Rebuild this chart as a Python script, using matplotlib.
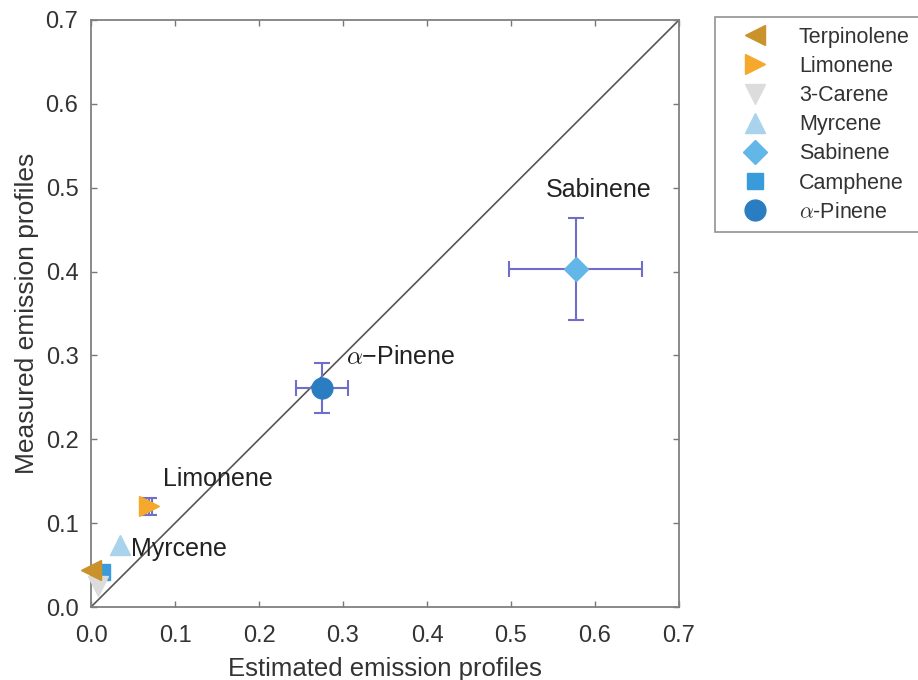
import matplotlib
matplotlib.use("Agg")
import matplotlib.pyplot as plt
from matplotlib.lines import Line2D

plt.rcParams['font.family'] = ['Liberation Sans', 'DejaVu Sans']
plt.rcParams['mathtext.fontset'] = 'cm'

names = ['Terpinolene', 'Limonene', '3-Carene', 'Myrcene', 'Sabinene', 'Camphene', r'$\alpha$-Pinene']
estimated = [0.0, 0.069, 0.008, 0.034, 0.577, 0.013, 0.275]
measured = [0.044, 0.120, 0.025, 0.074, 0.403, 0.042, 0.261]
est_err = [0.0, 0.004, 0.0, 0.0, 0.079, 0.0, 0.031]
meas_err = [0.0, 0.010, 0.0, 0.0, 0.061, 0.0, 0.030]
markers = ['<', '>', 'v', '^', 'D', 's', 'o']
colors = ['#C9922B', '#F5A82B', '#DCDCDC', '#A9D3EC', '#62B6E8', '#3A9BDA', '#2A7DC0']
sizes = [15, 15, 15, 14, 12, 11, 15]

labels = ['Sabinene', r'$\alpha$−Pinene', 'Limonene', 'Myrcene']
label_x = [0.542, 0.304, 0.086, 0.048]
label_y = [0.497, 0.298, 0.153, 0.069]

fig = plt.figure(figsize=(9.18, 6.8), dpi=100)
ax = fig.add_axes([91/918, 1-607/680, 588/918, 587/680])

ax.plot([0, 0.7], [0, 0.7], color='#555555', lw=1.2, zorder=1)

handles = []
for i in reversed(range(len(names))):
    if est_err[i] > 0 or meas_err[i] > 0:
        ax.errorbar(estimated[i], measured[i], xerr=est_err[i], yerr=meas_err[i],
                    fmt='none', ecolor='#6F6FC8', elinewidth=1.5, capsize=6, capthick=1.5,
                    zorder=2 + (len(names) - i))
    ax.plot(estimated[i], measured[i], marker=markers[i], color=colors[i], markersize=sizes[i],
            linestyle='none', zorder=3 + (len(names) - i), clip_on=False)
for i in range(len(names)):
    handles.append(Line2D([], [], marker=markers[i], color=colors[i], markersize=sizes[i], linestyle='none'))

for t, x, y in zip(labels, label_x, label_y):
    ax.text(x, y, t, fontsize=18, color='#222222', ha='left', va='center', zorder=20)

ax.set_xlim(0, 0.7)
ax.set_ylim(0, 0.7)
ticks = [0.0, 0.1, 0.2, 0.3, 0.4, 0.5, 0.6, 0.7]
ax.set_xticks(ticks)
ax.set_yticks(ticks)
ax.set_xticklabels([f'{t:.1f}' for t in ticks])
ax.set_yticklabels([f'{t:.1f}' for t in ticks])
ax.tick_params(direction='in', top=True, right=True, labelsize=17, colors='#333333',
               length=4, width=1, pad=9)
ax.tick_params(axis='x', pad=13)
ax.tick_params(axis='both', color='#777777')
for s in ax.spines.values():
    s.set_color('#808080')
    s.set_linewidth(1.3)
ax.set_xlabel('Estimated emission profiles', fontsize=18.5, color='#333333', labelpad=7)
ax.set_ylabel('Measured emission profiles', fontsize=19, color='#333333', labelpad=5)

leg = fig.legend(handles, names, loc='upper left', bbox_to_anchor=(715/918, 1-17/680),
                 fontsize=15.5, frameon=True, fancybox=False, edgecolor='#777777',
                 handletextpad=0.65, labelspacing=0.38, borderpad=0.45, handlelength=2.8,
                 borderaxespad=0)
leg.get_frame().set_linewidth(1.2)
for t in leg.get_texts():
    t.set_color('#333333')

fig.savefig('out.png', dpi=100)
